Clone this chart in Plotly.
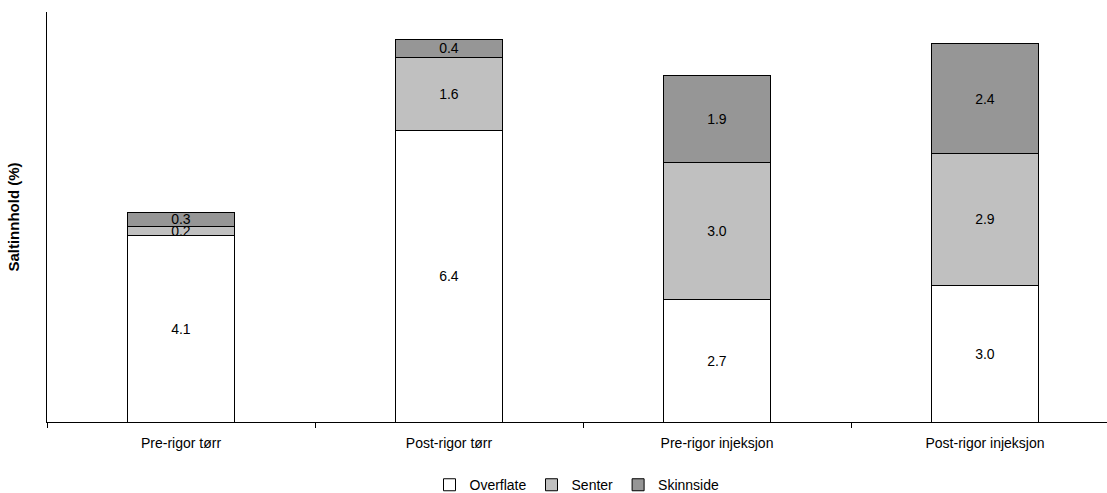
import plotly.graph_objects as go

categories = ["Pre-rigor tørr", "Post-rigor tørr", "Pre-rigor injeksjon", "Post-rigor injeksjon"]
overflate = [4.1, 6.4, 2.7, 3.0]
senter = [0.2, 1.6, 3.0, 2.9]
skinnside = [0.3, 0.4, 1.9, 2.4]

series = [
    ("Overflate", overflate, "#FFFFFF"),
    ("Senter", senter, "#C0C0C0"),
    ("Skinnside", skinnside, "#969696"),
]

fig = go.Figure()
for name, vals, col in series:
    fig.add_trace(go.Bar(
        x=categories, y=vals, name=name,
        marker=dict(color=col, line=dict(color="#000000", width=1)),
        texttemplate="%{y:.1f}", textposition="inside", insidetextanchor="middle",
        textangle=0, textfont=dict(color="#000000", size=14, family="Liberation Sans, Arial"),
        width=0.4,
    ))

W, H = 1107, 493
fig.update_layout(
    width=W, height=H, barmode="stack",
    paper_bgcolor="white", plot_bgcolor="white",
    margin=dict(l=47, r=0, t=12, b=71, autoexpand=False),
    font=dict(family="Liberation Sans, Arial", size=14, color="#000000"),
    uniformtext=dict(minsize=14, mode="show"),
    showlegend=True,
    legend=dict(orientation="h", x=0.5, xanchor="center", y=-0.115, yanchor="top",
                font=dict(size=14), itemwidth=30, traceorder="normal"),
)
fig.update_xaxes(
    range=[-0.5, -0.5 + 1060 / 268], showline=True, linecolor="#000000", linewidth=1,
    ticks="outside", tickson="boundaries", ticklen=5, tickcolor="#000000",
    ticklabelstandoff=8,
    showgrid=False, zeroline=False, tickfont=dict(size=14),
)
fig.update_yaxes(
    range=[0, 9], showline=True, linecolor="#000000", linewidth=1,
    showticklabels=False, ticks="", showgrid=False, zeroline=False,
    title=dict(text="<b>Saltinnhold (%)</b>", font=dict(size=15), standoff=22),
)
fig.write_html("out.html", config={"displayModeBar": False},
               post_script="document.body.style.margin='0';document.body.style.overflow='hidden';")
